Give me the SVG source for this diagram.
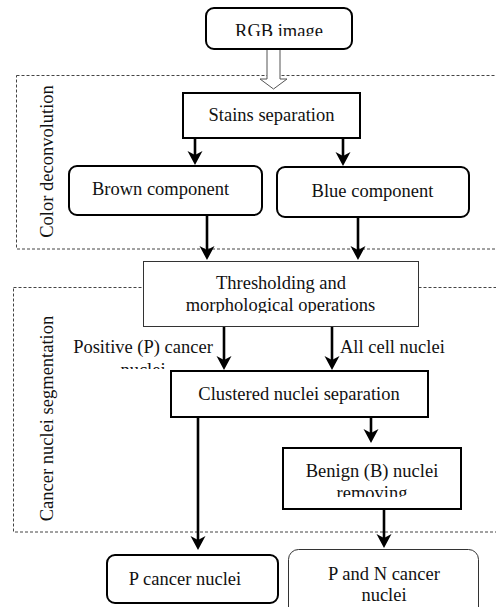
<svg xmlns="http://www.w3.org/2000/svg" width="496" height="607" viewBox="0 0 496 607">
<style>
text{font-family:"Liberation Serif","Times New Roman",serif;font-size:18.5px;fill:#111;text-anchor:middle}
.b{fill:#fff;stroke:#000;stroke-width:2}
.t{fill:#fff;stroke:#333;stroke-width:1}
.d{fill:none;stroke:#444;stroke-width:1;stroke-dasharray:3 2}
.c{fill:none;stroke:#000;stroke-width:2.6}
</style>
<defs>
<marker id="ah" markerUnits="userSpaceOnUse" orient="auto" refX="0" refY="0" markerWidth="20" markerHeight="20" overflow="visible">
<path d="M8,0 L-6,-7.5 L-2,0 L-6,7.5 Z" fill="#000"/>
</marker>
<clipPath id="cRGB" clipPathUnits="userSpaceOnUse"><rect x="200" y="0" width="160" height="36"/></clipPath>
<clipPath id="cPos" clipPathUnits="userSpaceOnUse"><rect x="50" y="330" width="180" height="39"/></clipPath>
<clipPath id="cThr" clipPathUnits="userSpaceOnUse"><rect x="140" y="260" width="280" height="53"/></clipPath>
<clipPath id="cBen" clipPathUnits="userSpaceOnUse"><rect x="280" y="445" width="185" height="52"/></clipPath>
</defs>

<g id="group-color-deconvolution">
<rect class="d" x="16.5" y="75.5" width="490" height="173.5"/>
<text transform="translate(53,161.5) rotate(-90)">Color deconvolution</text>
</g>
<g id="group-cancer-nuclei-segmentation">
<rect class="d" x="13.5" y="287.5" width="495" height="244.5"/>
<text transform="translate(53,418.5) rotate(-90)">Cancer nuclei segmentation</text>
</g>

<g id="connectors">
<path d="M273.5,89 L260,79 L267,79 L267,49 L280,49 L280,79 L287,79 Z" fill="#fff" stroke="#555" stroke-width="1"/>
<line class="c" x1="195" y1="138" x2="195" y2="157" marker-end="url(#ah)"/>
<line class="c" x1="343" y1="138" x2="343" y2="158" marker-end="url(#ah)"/>
<line class="c" x1="207" y1="215" x2="207" y2="252" marker-end="url(#ah)"/>
<line class="c" x1="358" y1="217" x2="358" y2="252" marker-end="url(#ah)"/>
<line class="c" x1="224" y1="326" x2="224" y2="362" marker-end="url(#ah)"/>
<line class="c" x1="332" y1="326" x2="332" y2="362" marker-end="url(#ah)"/>
<line class="c" x1="371" y1="417" x2="371" y2="435" marker-end="url(#ah)"/>
<line class="c" x1="198" y1="417" x2="198" y2="542" marker-end="url(#ah)"/>
<line class="c" x1="384" y1="509" x2="384" y2="540" marker-end="url(#ah)"/>
<g clip-path="url(#cPos)">
<text x="143" y="353">Positive (P) cancer</text>
<text x="143" y="376">nuclei</text>
</g>
<text x="340" y="353" style="text-anchor:start">All cell nuclei</text>
</g>

<g id="node-rgb">
<rect class="b" x="206" y="8" width="146" height="41" rx="8"/>
<text x="279" y="37" clip-path="url(#cRGB)">RGB image</text>
</g>
<g id="node-stains">
<rect class="b" x="183" y="93" width="177" height="45"/>
<text x="271.5" y="121">Stains separation</text>
</g>
<g id="node-brown">
<rect class="b" x="69" y="166" width="193" height="49" rx="8"/>
<text x="160.5" y="195">Brown component</text>
</g>
<g id="node-blue">
<rect class="b" x="277" y="167" width="192" height="50" rx="8"/>
<text x="372.5" y="197">Blue component</text>
</g>
<g id="node-threshold">
<rect class="t" x="143.5" y="261.5" width="275" height="65"/>
<g clip-path="url(#cThr)">
<text x="281" y="289">Thresholding and</text>
<text x="280.5" y="311">morphological operations</text>
</g>
</g>
<g id="node-clustered">
<rect class="b" x="171" y="371" width="257" height="46"/>
<text x="299" y="400">Clustered nuclei separation</text>
</g>
<g id="node-benign">
<rect class="b" x="283" y="448" width="178" height="61"/>
<g clip-path="url(#cBen)">
<text x="372" y="477">Benign (B) nuclei</text>
<text x="372" y="499">removing</text>
</g>
</g>
<g id="node-p-cancer">
<rect class="b" x="107" y="555" width="171" height="48" rx="8"/>
<text x="185" y="585">P cancer nuclei</text>
</g>
<g id="node-pn-cancer">
<rect class="t" x="288.5" y="549.5" width="190" height="70" rx="10"/>
<text x="384" y="580">P and N cancer</text>
<text x="384" y="601">nuclei</text>
</g>
</svg>
